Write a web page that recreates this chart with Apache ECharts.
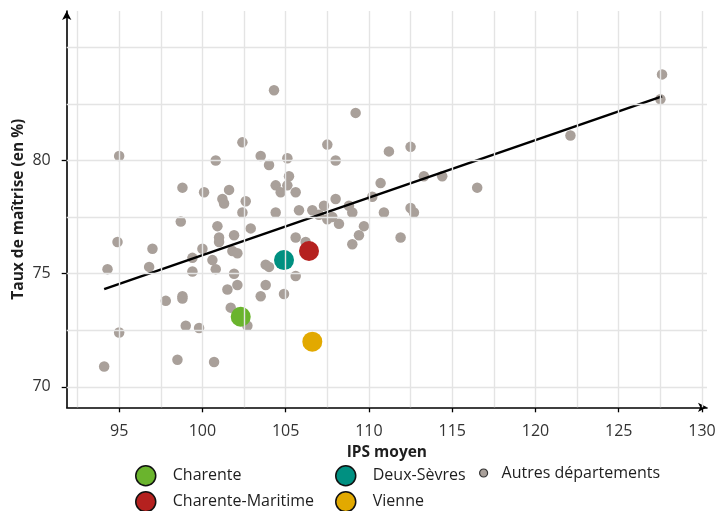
<!DOCTYPE html>
<html>
<head>
<meta charset="utf-8">
<script src="https://cdn.jsdelivr.net/npm/echarts@6/dist/echarts.min.js"></script>
<style>html,body{margin:0;padding:0;background:#fff;}#c{width:724px;height:511px;}</style>
</head>
<body>
<div id="c"></div>
<script>
// IPS moyen (x) and Taux de maîtrise (y) for the other départements
const autresX = [104.3,102.4,95.0,100.8,103.5,104.0,98.8,100.1,101.6,101.2,101.3,102.6,102.4,104.4,104.7,104.4,98.7,100.9,102.9,109.2,107.5,108.0,111.2,112.5,105.1,105.2,105.1,105.6,105.8,106.6,107.3,108.0,107.0,107.5,107.8,108.2,108.8,109.0,109.7,110.2,110.7,110.9,112.5,112.7,113.3,114.4,116.5,122.1,127.6,127.5,111.9,101.0,101.0,101.9,94.9,97.0,100.0,99.4,100.6,101.8,102.1,94.3,96.8,99.4,100.8,101.9,102.1,101.5,103.8,104.0,103.8,103.5,97.8,98.8,98.8,101.7,102.7,99.0,99.8,95.0,94.1,98.5,100.7,109.4,109.0,105.6,106.2,105.6,104.9];
const autresY = [83.1,80.8,80.2,80.0,80.2,79.8,78.8,78.6,78.7,78.3,78.1,78.2,77.7,78.9,78.6,77.7,77.3,77.1,77.0,82.1,80.7,80.0,80.4,80.6,80.1,79.3,78.9,78.6,77.8,77.8,78.0,78.3,77.6,77.4,77.5,77.2,78.0,77.7,77.1,78.4,79.0,77.7,77.9,77.7,79.3,79.3,78.8,81.1,83.8,82.7,76.6,76.6,76.4,76.7,76.4,76.1,76.1,75.7,75.6,76.0,75.9,75.2,75.3,75.1,75.2,75.0,74.5,74.3,75.4,75.3,74.5,74.0,73.8,74.0,73.9,73.5,72.7,72.7,72.6,72.4,70.9,71.2,71.1,76.7,76.3,76.6,76.4,74.9,74.1];

const deptNames = ['Charente','Charente-Maritime','Deux-Sèvres','Vienne'];
const deptX = [102.3,106.4,104.9,106.6];
const deptY = [73.1,76.0,75.6,72.0];
const deptColors = ['#6ab42d','#b5211f','#009081','#e2a900'];
const autresName = 'Autres départements';

// regression line endpoints
const trendX = [94.1,127.6];
const trendY = [74.32,82.83];

const xTicks = [95,100,105,110,115,120,125,130];
const yTicks = [70,75,80];
const xGrid = [92.5,95,97.5,100,102.5,105,107.5,110,112.5,115,117.5,120,122.5,125,127.5,130];
const yGrid = [70,72.5,75,77.5,80,82.5,85];

const FONT = 'Open Sans';
const chart = echarts.init(document.getElementById('c'));

const series = [];
series.push({
  name: 'grid', type: 'scatter', data: [], z: 0, silent: true,
  markLine: {
    silent: true, symbol: 'none', animation: false,
    label: {show: false},
    lineStyle: {color: '#e4e4e4', width: 1.4, type: 'solid'},
    emphasis: {disabled: true},
    data: xGrid.map(v => ({xAxis: v})).concat(yGrid.map(v => ({yAxis: v})))
  }
});
series.push({
  name: autresName, type: 'scatter', z: 2,
  symbolSize: 10.5,
  itemStyle: {color: '#a9a09a', opacity: 1},
  data: autresX.map((x, i) => [x, autresY[i]])
});
series.push({
  name: 'trend', type: 'line', z: 3, showSymbol: false, symbol: 'none',
  lineStyle: {color: '#000', width: 2.5},
  data: trendX.map((x, i) => [x, trendY[i]])
});
deptNames.forEach((n, i) => {
  series.push({
    name: n, type: 'scatter', z: 4, symbolSize: 20,
    itemStyle: {color: deptColors[i], opacity: 1},
    data: [[deptX[i], deptY[i]]]
  });
});

const legendText = {fontFamily: FONT, fontSize: 16, color: '#1e1e1e'};
const legendStyle = {borderColor: '#111', borderWidth: 1.5};
// legend slots: [name, left, top]
const legendSlots = [
  ['Charente', 135, 465], ['Charente-Maritime', 135, 491],
  ['Deux-Sèvres', 335, 465], ['Vienne', 335, 491]
];
const legends = legendSlots.map(s => ({
  left: s[1], top: s[2], padding: 0, orient: 'horizontal', itemWidth: 20, itemHeight: 20,
  icon: 'circle', selectedMode: false, textStyle: Object.assign({padding: [0, 0, 0, 12]}, legendText),
  itemStyle: legendStyle, data: [s[0]]
}));
legends.push({
  left: 479, top: 465, padding: 0, orient: 'horizontal', itemWidth: 8, itemHeight: 20, icon: 'circle',
  selectedMode: false, textStyle: Object.assign({padding: [0, 0, 0, 9]}, legendText),
  itemStyle: {borderColor: '#333', borderWidth: 1.2}, data: [autresName]
});

chart.setOption({
  animation: false,
  grid: {left: 66.7, right: 17, top: 11, bottom: 103.7, containLabel: false, outerBoundsMode: 'none'},
  xAxis: {
    type: 'value', min: 91.85, max: 130.3,
    name: 'IPS moyen', nameLocation: 'middle', nameGap: 36,
    nameTextStyle: {fontFamily: FONT, fontSize: 15.5, fontWeight: 'bold', color: '#1e1e1e'},
    axisLine: {show: true, onZero: false, lineStyle: {color: '#000', width: 1.6}, symbol: ['none', 'arrow'], symbolSize: [7, 9]},
    axisTick: {show: true, length: 5, lineStyle: {color: '#000', width: 1.3}, customValues: xTicks},
    axisLabel: {fontFamily: FONT, fontSize: 16, color: '#333', margin: 16, customValues: xTicks},
    splitLine: {show: false}
  },
  yAxis: {
    type: 'value', min: 69.1, max: 86.6,
    name: 'Taux de maîtrise (en %)', nameLocation: 'middle', nameGap: 40, nameRotate: 90,
    nameMoveOverlap: false,
    nameTextStyle: {fontFamily: FONT, fontSize: 15.5, fontWeight: 'bold', color: '#1e1e1e'},
    axisLine: {show: true, onZero: false, lineStyle: {color: '#000', width: 1.6}, symbol: ['none', 'arrow'], symbolSize: [7, 9]},
    axisTick: {show: true, length: 5, lineStyle: {color: '#000', width: 1.3}, customValues: yTicks},
    axisLabel: {fontFamily: FONT, fontSize: 16, color: '#333', margin: 16, customValues: yTicks},
    splitLine: {show: false}
  },
  legend: legends,
  series: series
});
</script>
</body>
</html>
